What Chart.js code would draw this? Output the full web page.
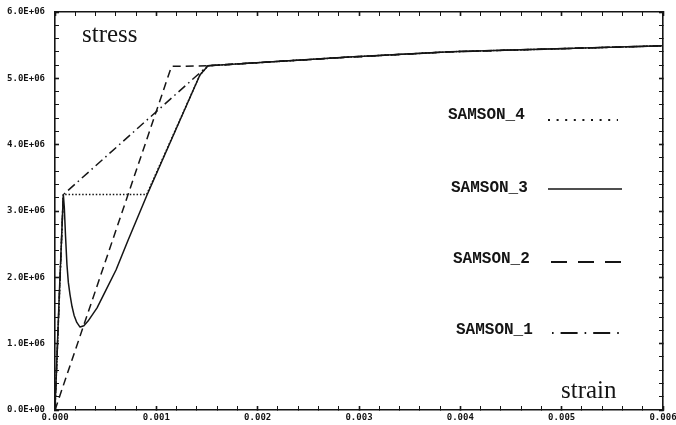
<!DOCTYPE html>
<html>
<head>
<meta charset="utf-8">
<script src="https://cdn.jsdelivr.net/npm/chart.js@4.4.1/dist/chart.umd.min.js"></script>
<style>
	html, body { margin: 0; padding: 0; background: #fff; }
</style>
</head>
<body>
<canvas id="stress-canvas" width="676" height="425"></canvas>
<script>
// values (strain [-], stress [Pa])
const samson4Strain = [0, 0.000082, 0.000905, 0.00143, 0.00151, 0.0029, 0.0039, 0.006];
const samson4Stress = [0, 3.25e6, 3.25e6, 5.05e6, 5.19e6, 5.32e6, 5.40e6, 5.49e6];

const samson3Strain = [0, 0.00004, 0.000082, 0.000092, 0.000104, 0.000118, 0.000132, 0.000148, 0.000168, 0.000188, 0.000215, 0.000247, 0.000285, 0.000326, 0.000415, 0.000494, 0.000602, 0.000721, 0.000908, 0.00143, 0.00151, 0.0029, 0.0039, 0.006];
const samson3Stress = [0, 1.65e6, 3.25e6, 3.05e6, 2.62e6, 2.19e6, 1.92e6, 1.74e6, 1.56e6, 1.43e6, 1.32e6, 1.25e6, 1.27e6, 1.34e6, 1.54e6, 1.78e6, 2.11e6, 2.56e6, 3.24e6, 5.05e6, 5.19e6, 5.32e6, 5.40e6, 5.49e6];

const samson2Strain = [0, 0.00115, 0.00151, 0.0029, 0.0039, 0.006];
const samson2Stress = [0, 5.18e6, 5.19e6, 5.32e6, 5.40e6, 5.49e6];

const samson1Strain = [0, 0.000082, 0.000099, 0.00142, 0.00151, 0.0029, 0.0039, 0.006];
const samson1Stress = [0, 3.25e6, 3.27e6, 5.07e6, 5.19e6, 5.32e6, 5.40e6, 5.49e6];

const seriesNames = ['SAMSON_4', 'SAMSON_3', 'SAMSON_2', 'SAMSON_1'];
const xTitle = 'strain';
const yTitle = 'stress';

const toPoints = (xs, ys) => xs.map((x, i) => ({x: x, y: ys[i]}));

const ink = '#151515';
const tickFont = {family: "'DejaVu Sans Mono', monospace", size: 9, weight: 'bold'};

function isMajor(v, step) {
	const r = v / step;
	return Math.abs(r - Math.round(r)) < 1e-6;
}

function zeroPad(s) {
	s.paddingLeft = 0;
	s.paddingRight = 0;
	s.paddingTop = 0;
	s.paddingBottom = 0;
}

const gridOpts = (step) => ({
	drawOnChartArea: false,
	drawTicks: true,
	tickLength: -4,
	tickColor: ink,
	tickWidth: ctx => (ctx.tick && isMajor(ctx.tick.value, step)) ? 1.6 : 1
});

// text labels + legend in the plot corner
const annotate = {
	id: 'annotate',
	afterDraw(chart) {
		const ctx = chart.ctx;
		ctx.save();
		ctx.fillStyle = ink;
		ctx.strokeStyle = ink;
		ctx.font = "25px 'Liberation Serif', serif";
		ctx.textBaseline = 'alphabetic';
		ctx.textAlign = 'left';
		ctx.fillText(yTitle, 82, 42);
		ctx.fillText(xTitle, 561, 398);

		const rows = [
			{tx: 448, ty: 119, x1: 548, x2: 618, ly: 120, dash: [2, 6.6], w: 2},
			{tx: 451, ty: 192, x1: 548, x2: 622, ly: 189, dash: [], w: 1.5},
			{tx: 453, ty: 263, x1: 551, x2: 622, ly: 262, dash: [16, 11], w: 1.8},
			{tx: 456, ty: 334, x1: 552, x2: 624, ly: 333, dash: [1.6, 7, 17, 7], w: 1.8}
		];
		ctx.font = "bold 16px 'Liberation Mono', monospace";
		rows.forEach((r, i) => {
			ctx.fillText(seriesNames[i], r.tx, r.ty);
			ctx.beginPath();
			ctx.setLineDash(r.dash);
			ctx.lineWidth = r.w;
			ctx.moveTo(r.x1, r.ly);
			ctx.lineTo(r.x2, r.ly);
			ctx.stroke();
		});
		ctx.restore();
	}
};

new Chart('stress-canvas', {
	type: 'scatter',
	data: {
		datasets: [
			{
				label: seriesNames[1],
				data: toPoints(samson3Strain, samson3Stress),
				showLine: true,
				pointRadius: 0,
				borderColor: ink,
				borderWidth: 1.5,
				borderJoinStyle: 'round'
			},
			{
				label: seriesNames[0],
				data: toPoints(samson4Strain, samson4Stress),
				showLine: true,
				pointRadius: 0,
				borderColor: ink,
				borderWidth: 1.5,
				borderDash: [1.5, 1.9]
			},
			{
				label: seriesNames[2],
				data: toPoints(samson2Strain, samson2Stress),
				showLine: true,
				pointRadius: 0,
				borderColor: ink,
				borderWidth: 1.5,
				borderDash: [8, 5]
			},
			{
				label: seriesNames[3],
				data: toPoints(samson1Strain, samson1Stress),
				showLine: true,
				pointRadius: 0,
				borderColor: ink,
				borderWidth: 1.5,
				borderDash: [9, 4, 1.5, 4]
			}
		]
	},
	options: {
		responsive: false,
		animation: false,
		layout: {padding: 0},
		scales: {
			x: {
				type: 'linear',
				position: 'bottom',
				min: 0,
				max: 0.006,
				ticks: {
					stepSize: 0.0002,
					autoSkip: false,
					maxRotation: 0,
					minRotation: 0,
					padding: 6,
					color: ink,
					font: tickFont,
					callback: v => isMajor(v, 0.001) ? v.toFixed(3) : ''
				},
				grid: gridOpts(0.001),
				border: {color: ink, width: 1.6},
				afterFit: s => { s.height = 15; zeroPad(s); }
			},
			xTop: {
				type: 'linear',
				position: 'top',
				display: true,
				min: 0,
				max: 0.006,
				ticks: {display: false, stepSize: 0.0002, autoSkip: false},
				grid: gridOpts(0.001),
				border: {color: ink, width: 1.6},
				afterFit: s => { s.height = 12; zeroPad(s); }
			},
			y: {
				type: 'linear',
				position: 'left',
				min: 0,
				max: 6e6,
				ticks: {
					stepSize: 2e5,
					autoSkip: false,
					padding: 14,
					color: ink,
					font: tickFont,
					callback: v => isMajor(v, 1e6) ? (v === 0 ? '0.0E+00' : (v / 1e6).toFixed(1) + 'E+06') : ''
				},
				grid: gridOpts(1e6),
				border: {color: ink, width: 1.6},
				afterFit: s => { s.width = 55; zeroPad(s); }
			},
			yRight: {
				type: 'linear',
				position: 'right',
				display: true,
				min: 0,
				max: 6e6,
				ticks: {display: false, stepSize: 2e5, autoSkip: false},
				grid: gridOpts(1e6),
				border: {color: ink, width: 1.6},
				afterFit: s => { s.width = 13; zeroPad(s); }
			}
		},
		plugins: {
			legend: {display: false},
			tooltip: {enabled: false}
		}
	},
	plugins: [annotate]
});
</script>
</body>
</html>
